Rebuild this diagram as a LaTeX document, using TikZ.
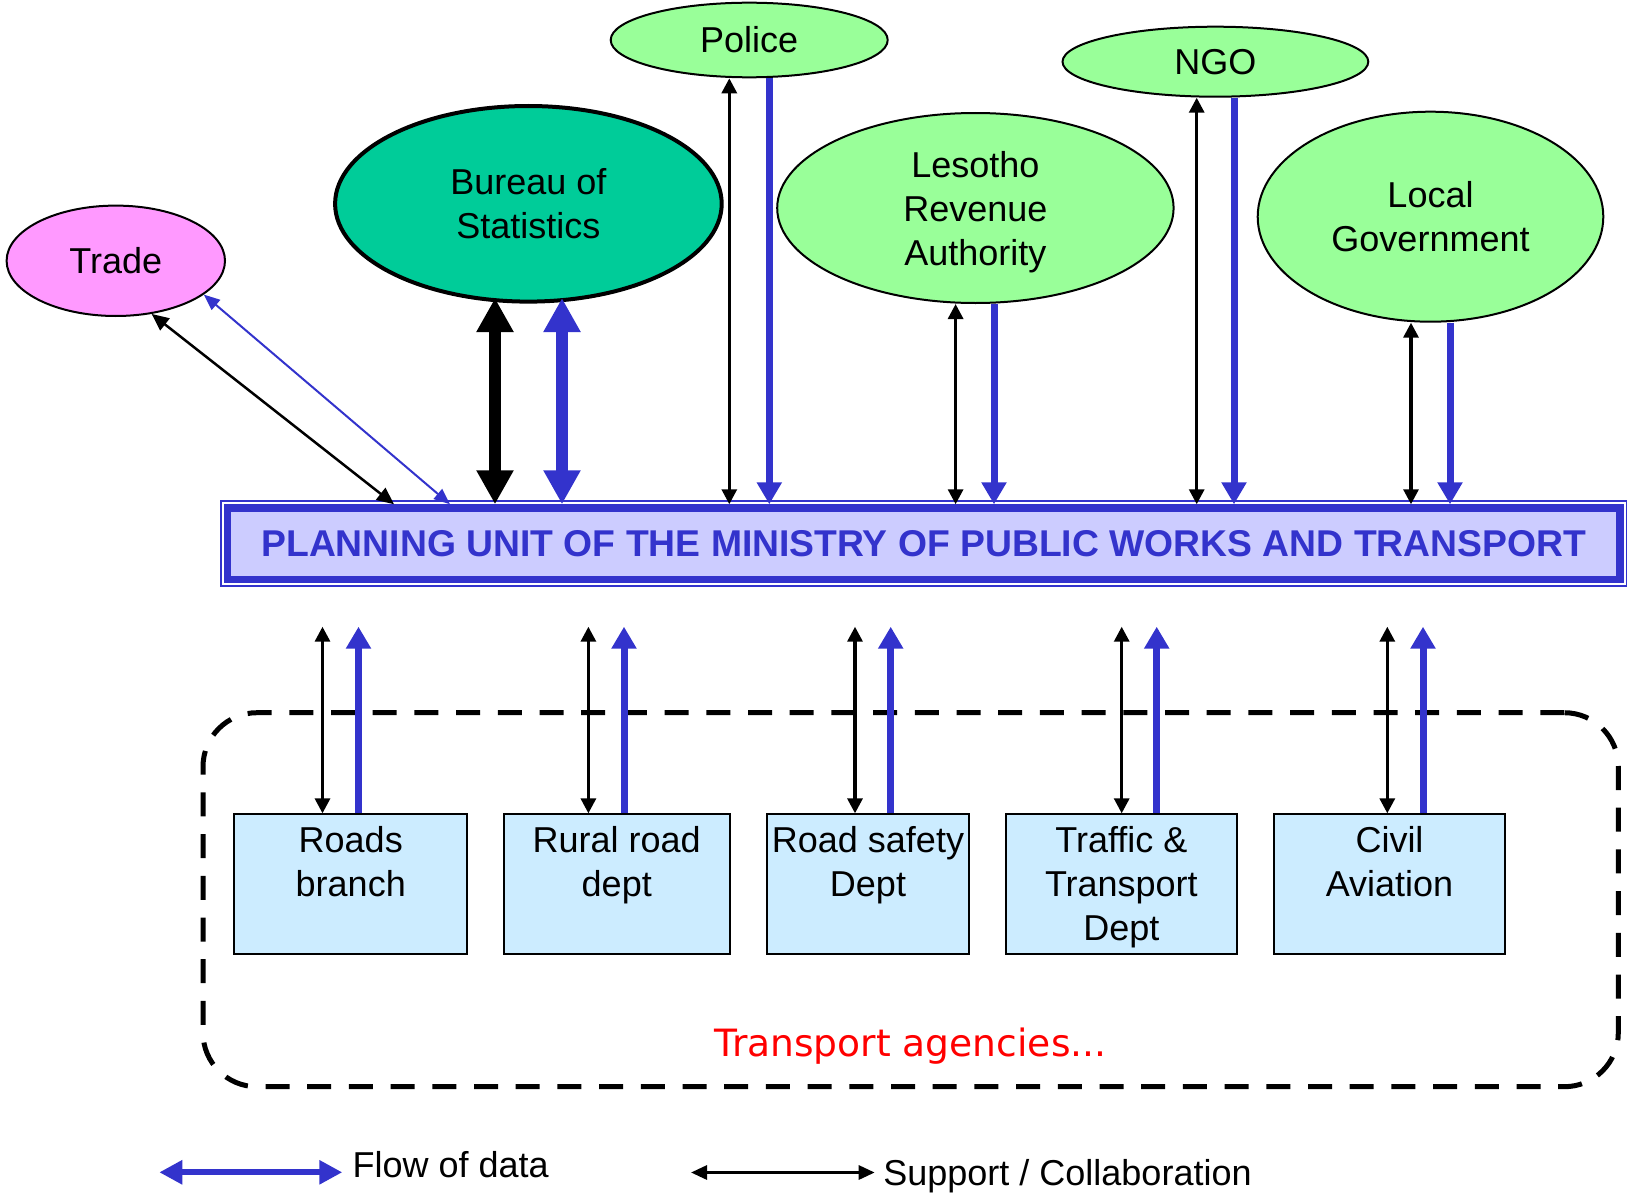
\documentclass[tikz,border=0pt]{standalone}
\usepackage{fontspec}
\setmainfont{Liberation Sans}
\newfontfamily\djv{DejaVu Sans}
\usetikzlibrary{arrows.meta,shapes.geometric,calc}
\definecolor{pucol}{HTML}{3333CC}
\definecolor{pufill}{HTML}{CCCCFF}
\definecolor{grn}{HTML}{99FF99}
\definecolor{tradecol}{HTML}{FF99FF}
\definecolor{burcol}{HTML}{00CC99}
\definecolor{boxfill}{HTML}{CCECFF}
\begin{document}
\begin{tikzpicture}[x=0.5pt,y=-0.5pt,
  base/.style={font=\fontsize{18pt}{22pt}\selectfont, align=center},
  oval/.style={base, ellipse, draw, line width=1pt, inner sep=0pt},
  agency/.style={draw, line width=1pt, fill=boxfill, minimum height=69.85pt, inner sep=0pt},
  agtext/.style={base, anchor=north, inner sep=0pt},
  dashbox/.style={draw, line width=2.5pt, dash pattern=on 12pt off 8.85pt, rounded corners=27pt, inner sep=0pt},
  sup/.style={line width=1.6pt, >={Triangle[length=7.5pt,width=7.5pt]}, <->},
  supthin/.style={line width=1.25pt, >={Triangle[length=8.5pt,width=7.5pt]}, <->},
  datthin/.style={pucol, line width=1pt, >={Triangle[length=8pt,width=6.5pt]}, <->},
  dat/.style={pucol, line width=3.5pt, >={Triangle[length=11pt,width=12pt]}, ->},
  bigk/.style={line width=5.75pt, >={Triangle[length=17pt,width=17.5pt]}, <->, shorten <=-2pt},
  bigb/.style={pucol, line width=6pt, >={Triangle[length=17pt,width=17.5pt]}, <->, shorten <=-2pt},
  legb/.style={pucol, line width=3pt, >={Triangle[length=11.5pt,width=11.5pt]}, <->},
  legk/.style={line width=1.5pt, >={Triangle[length=8pt,width=7pt]}, <->}
]
\useasboundingbox (0,0) rectangle (1627,1193);

% ---- top organisations
\node[oval, fill=tradecol, minimum width=109.2pt, minimum height=55.2pt] (trade) at (115.8,260.8) {Trade};
\node[oval, fill=burcol, line width=2pt, minimum width=193.3pt, minimum height=97.8pt] (bureau) at (528.4,203.8) {Bureau of\\Statistics};
\node[oval, fill=grn, minimum width=138.5pt, minimum height=37.3pt] (police) at (749.2,40) {Police};
\node[oval, fill=grn, minimum width=152.9pt, minimum height=35pt] (ngo) at (1215.4,61.7) {NGO};
\node[oval, fill=grn, minimum width=198.2pt, minimum height=95pt, text depth=0pt] (lra) at (975.4,208) {Lesotho\\Revenue\\Authority};
\node[oval, fill=grn, minimum width=172.8pt, minimum height=105pt] (lg) at (1430.5,216.7) {Local\\Government};

% ---- planning unit
\node[draw=pucol, line width=3.75pt, fill=pufill, minimum width=696.25pt, minimum height=35.75pt, inner sep=0pt,
      text=pucol, font=\bfseries\fontsize{18.65pt}{22pt}\selectfont] (pu) at (923.75,543.75)
      {PLANNING UNIT OF THE MINISTRY OF PUBLIC WORKS AND TRANSPORT};
\draw[pucol, line width=1pt] ([xshift=-1.6pt,yshift=1.6pt]pu.north west) rectangle ([xshift=1.6pt,yshift=-1.6pt]pu.south east);

% ---- transport agencies
\node[dashbox, minimum width=707.65pt, minimum height=187pt] (agencies) at (910.65,899.7) {};
\node[agency, minimum width=116.3pt] (roads) at (350.75,884.2) {};
\node[agency, minimum width=113.25pt] (rural) at (616.75,884.2) {};
\node[agency, minimum width=101.3pt] (safety) at (868,884.2) {};
\node[agency, minimum width=115.35pt] (traffic) at (1121.35,884.2) {};
\node[agency, minimum width=115.5pt] (civil) at (1389.5,884.2) {};
\node[agtext] (roadsT) at ([yshift=-6.3pt]roads.north) {Roads\\branch};
\node[agtext] (ruralT) at ([yshift=-6.3pt]rural.north) {Rural road\\dept};
\node[agtext] (safetyT) at ([yshift=-6.3pt]safety.north) {Road safety\\Dept};
\node[agtext] (trafficT) at ([yshift=-6.3pt]traffic.north) {Traffic \&\\Transport\\Dept};
\node[agtext] (civilT) at ([yshift=-6.3pt]civil.north) {Civil\\Aviation};
\node[anchor=base, inner sep=0pt, text=red, font=\djv\fontsize{18.8pt}{22pt}\selectfont] (agtitle) at (910.5,1056.7) {Transport agencies...};

\coordinate (agtop) at (0,626.7);

% ---- connectors to the top organisations
\draw[supthin] (trade.-56) -- (394,0 |- pu.north);
\draw[datthin] (trade.-21) -- (450,0 |- pu.north);
\draw[bigk] (495,0 |- bureau.-109) -- (495,0 |- pu.north);
\draw[bigb] (562,0 |- bureau.-71) -- (562,0 |- pu.north);
\draw[sup] (729.3,0 |- police.south) -- (729.3,0 |- pu.north);
\draw[dat] (769.3,0 |- police.south) -- (769.3,0 |- pu.north);
\draw[sup] (955.6,0 |- lra.south) -- (955.6,0 |- pu.north);
\draw[dat] (994,0 |- lra.south) -- (994,0 |- pu.north);
\draw[sup] (1196.7,0 |- ngo.south) -- (1196.7,0 |- pu.north);
\draw[dat] (1234,0 |- ngo.south) -- (1234,0 |- pu.north);
\draw[sup] (1411,0 |- lg.south) -- (1411,0 |- pu.north);
\draw[dat] (1450,0 |- lg.south) -- (1450,0 |- pu.north);

% ---- connectors from the agencies
\draw[sup] (322.5,0 |- roads.north) -- (322.5,0 |- agtop);
\draw[dat] (358.5,0 |- roads.north) -- (358.5,0 |- agtop);
\draw[sup] (588.4,0 |- rural.north) -- (588.4,0 |- agtop);
\draw[dat] (624,0 |- rural.north) -- (624,0 |- agtop);
\draw[sup] (855,0 |- safety.north) -- (855,0 |- agtop);
\draw[dat] (890.7,0 |- safety.north) -- (890.7,0 |- agtop);
\draw[sup] (1121.7,0 |- traffic.north) -- (1121.7,0 |- agtop);
\draw[dat] (1156.7,0 |- traffic.north) -- (1156.7,0 |- agtop);
\draw[sup] (1387.3,0 |- civil.north) -- (1387.3,0 |- agtop);
\draw[dat] (1423,0 |- civil.north) -- (1423,0 |- agtop);

% ---- legend
\coordinate (lgb1) at (159.3,1172.3);
\coordinate (lgb2) at (342.3,1172.3);
\coordinate (lgk1) at (691,1172.5);
\coordinate (lgk2) at (874.7,1172.5);
\draw[legb] (lgb1) -- (lgb2);
\draw[legk] (lgk1) -- (lgk2);
\node[base, anchor=base west, inner sep=0pt] (flowtxt) at (352.3,1177.3) {Flow of data};
\node[base, anchor=base west, inner sep=0pt] (suptxt) at (883,1185.5) {Support / Collaboration};
\end{tikzpicture}
\end{document}
